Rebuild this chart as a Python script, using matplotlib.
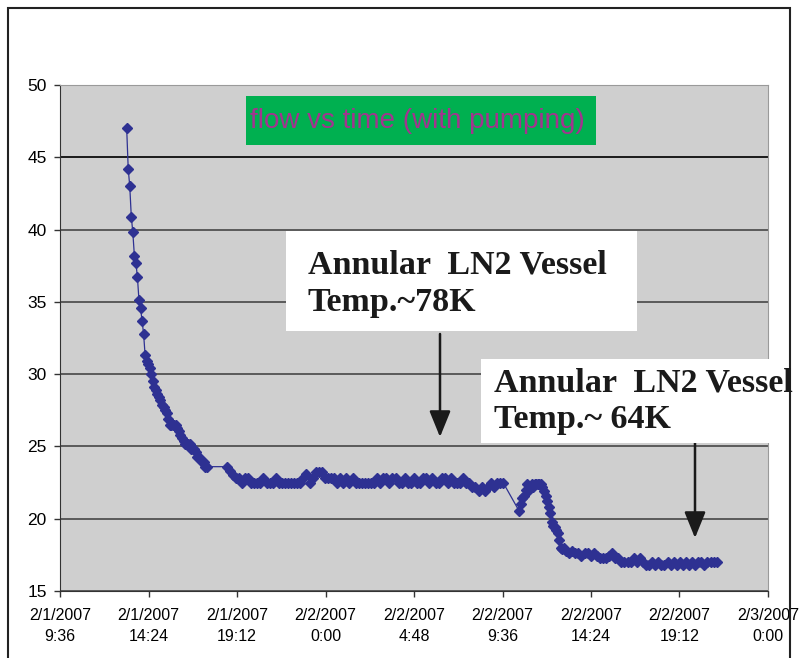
import datetime as dt
import numpy as np
import matplotlib
matplotlib.use("Agg")
import matplotlib.pyplot as plt
import matplotlib.dates as mdates
from matplotlib.patches import Rectangle

# flow readings, grouped by logging runs (start time, step in minutes, values)
decay_start = dt.datetime(2007, 2, 1, 13, 13)
decay_step = 5
decay_vals = [47.0, 44.2, 43.0, 40.9, 39.8, 38.2, 37.7, 36.7, 35.1, 34.6,
              33.7, 32.8, 31.3, 30.9, 30.7, 30.4, 30.0, 29.5, 29.1, 28.9,
              28.6, 28.4, 28.2, 27.9, 27.7, 27.5, 27.3, 26.9, 26.5, 26.5,
              26.5, 26.5, 26.5, 26.3, 26.1, 25.8, 25.6, 25.4, 25.2, 25.2,
              25.2, 25.2, 24.8, 24.8, 24.8, 24.6, 24.3, 24.3, 24.1, 23.9,
              23.9, 23.6, 23.6]

night_start = dt.datetime(2007, 2, 1, 18, 38)
night_step = 10
night_vals = [23.6, 23.3, 23.0, 22.8, 22.8, 22.5, 22.8, 22.8, 22.5, 22.5,
              22.5, 22.5, 22.8, 22.5, 22.5, 22.5, 22.8, 22.5, 22.5, 22.5,
              22.5, 22.5, 22.5, 22.5, 22.5, 22.8, 23.1, 22.5, 22.8, 23.2,
              23.2, 23.2, 22.8, 22.8, 22.8, 22.8, 22.5, 22.8, 22.5, 22.8,
              22.5, 22.8, 22.5, 22.5, 22.5, 22.5, 22.5, 22.5, 22.5, 22.8,
              22.5, 22.8, 22.8, 22.5, 22.8, 22.8, 22.5, 22.5, 22.8, 22.5,
              22.5, 22.8, 22.5, 22.5, 22.8, 22.8, 22.5, 22.8, 22.5, 22.5,
              22.8, 22.8, 22.5, 22.8, 22.5, 22.5, 22.5, 22.8, 22.5, 22.5,
              22.2, 22.2, 21.9, 22.2, 21.9, 22.2, 22.5, 22.2, 22.5, 22.5,
              22.5]

pump_start = dt.datetime(2007, 2, 2, 10, 31)
pump_step = 5
pump_vals = [20.5, 21.0, 21.4, 21.6, 22.0, 22.4, 22.0, 22.2, 22.4, 22.2,
             22.4, 22.4, 22.4, 22.4, 22.4, 22.2, 21.9, 21.6, 21.2, 20.8,
             20.4, 19.8, 19.5, 19.4, 19.2, 19.0, 18.5, 18.0, 17.9, 18.0]

tail_start = dt.datetime(2007, 2, 2, 13, 3)
tail_step = 10
tail_vals = [17.8, 17.6, 17.8, 17.6, 17.6, 17.4, 17.6, 17.6, 17.4, 17.6,
             17.4, 17.3, 17.3, 17.3, 17.4, 17.6, 17.3, 17.3, 17.0, 17.0,
             17.0, 17.0, 17.3, 17.0, 17.3, 17.0, 16.8, 16.8, 17.0, 16.8,
             17.0, 16.8, 16.8, 17.0, 16.8, 17.0, 16.8, 17.0, 16.8, 17.0,
             16.8, 17.0, 16.8, 17.0, 17.0, 16.8, 17.0, 17.0, 17.0, 17.0]

runs = [(decay_start, decay_step, decay_vals),
        (night_start, night_step, night_vals),
        (pump_start, pump_step, pump_vals),
        (tail_start, tail_step, tail_vals)]

times, flow = [], []
for t0, step, vals in runs:
    for i, v in enumerate(vals):
        times.append(t0 + dt.timedelta(minutes=step * i))
        flow.append(v)

x_start = dt.datetime(2007, 2, 1, 9, 36)
x_end = dt.datetime(2007, 2, 3, 0, 0)
x_ticks = [x_start + dt.timedelta(minutes=288 * k) for k in range(9)]

W, H = 803, 658
fig = plt.figure(figsize=(W / 100, H / 100), dpi=100)
ax = fig.add_axes([60 / W, 1 - 591 / H, 708 / W, 506 / H])
ax.set_facecolor("#cfcfcf")

ax.plot(times, flow, "-", color="#2e3192", lw=0.9, marker="D", ms=4.8,
        mfc="#2e3192", mec="#2e3192", zorder=3)

ax.set_xlim(x_start, x_end)
ax.set_ylim(15, 50)
ax.set_yticks(range(15, 51, 5))
ax.set_xticks(x_ticks)


def fmt(x, pos):
    d = mdates.num2date(x) + dt.timedelta(seconds=30)
    return f"{d.month}/{d.day}/{d.year}\n{d.hour}:{d.minute:02d}"


ax.xaxis.set_major_formatter(plt.FuncFormatter(fmt))
for lab in ax.get_xticklabels():
    lab.set_family("Liberation Sans")
    lab.set_fontsize(11.5)
    lab.set_linespacing(1.45)
for lab in ax.get_yticklabels():
    lab.set_family("Liberation Sans")
    lab.set_fontsize(12.5)
ax.tick_params(axis="both", direction="out", length=4.5, width=1,
               color="#333333")
ax.tick_params(axis="x", pad=8)
ax.tick_params(axis="y", pad=5)
ax.yaxis.grid(True, color="#5a5a5a", lw=1.4)
ax.set_axisbelow(True)
for s in ["top", "right"]:
    ax.spines[s].set_color("#9a9a9a")
for s in ["left", "bottom"]:
    ax.spines[s].set_color("#333333")
# the 45 line is drawn darker in the original
ax.axhline(45, color="#1e1e1e", lw=1.4, zorder=1)


def fig_rect(x0, y0, x1, y1, **kw):
    r = Rectangle((x0 / W, 1 - y1 / H), (x1 - x0) / W, (y1 - y0) / H,
                  transform=fig.transFigure, **kw)
    fig.add_artist(r)


def fig_text(x, y, s, **kw):
    fig.text(x / W, 1 - y / H, s, **kw)


# outer chart border
fig_rect(8, 8, 790, 700, fill=False, ec="#222222", lw=1.5)

# title box
fig_rect(246, 96, 596, 145, fc="#00b050", ec="none", zorder=5)
fig_text(250, 121, "flow vs time (with pumping)", color="#a3338f",
         family="Liberation Sans", fontsize=20, va="center", zorder=6)

# annotation boxes
serif = dict(family="Liberation Serif", weight="bold", fontsize=24.5,
             color="#1a1a1a", va="baseline", zorder=6)
fig_rect(286, 231, 637, 331, fc="white", ec="none", zorder=5)
fig_text(308, 273, "Annular  LN2 Vessel", **serif)
fig_text(308, 311, "Temp.~78K", **serif)

fig_rect(481, 359, 786, 443, fc="white", ec="none", zorder=5)
fig_text(494, 391, "Annular  LN2 Vessel", **serif)
fig_text(494, 428, "Temp.~ 64K", **serif)

# arrows
for xa, ya0, ya1 in [(440, 334, 437), (695, 443, 538)]:
    ax.annotate("", xy=(xa / W, 1 - ya1 / H), xytext=(xa / W, 1 - ya0 / H),
                xycoords="figure fraction", textcoords="figure fraction",
                arrowprops=dict(arrowstyle="-|>,head_length=1.6,head_width=0.65",
                                color="#1a1a1a", lw=1.8, shrinkA=0, shrinkB=0),
                zorder=7)

fig.savefig("out.png", dpi=100)
